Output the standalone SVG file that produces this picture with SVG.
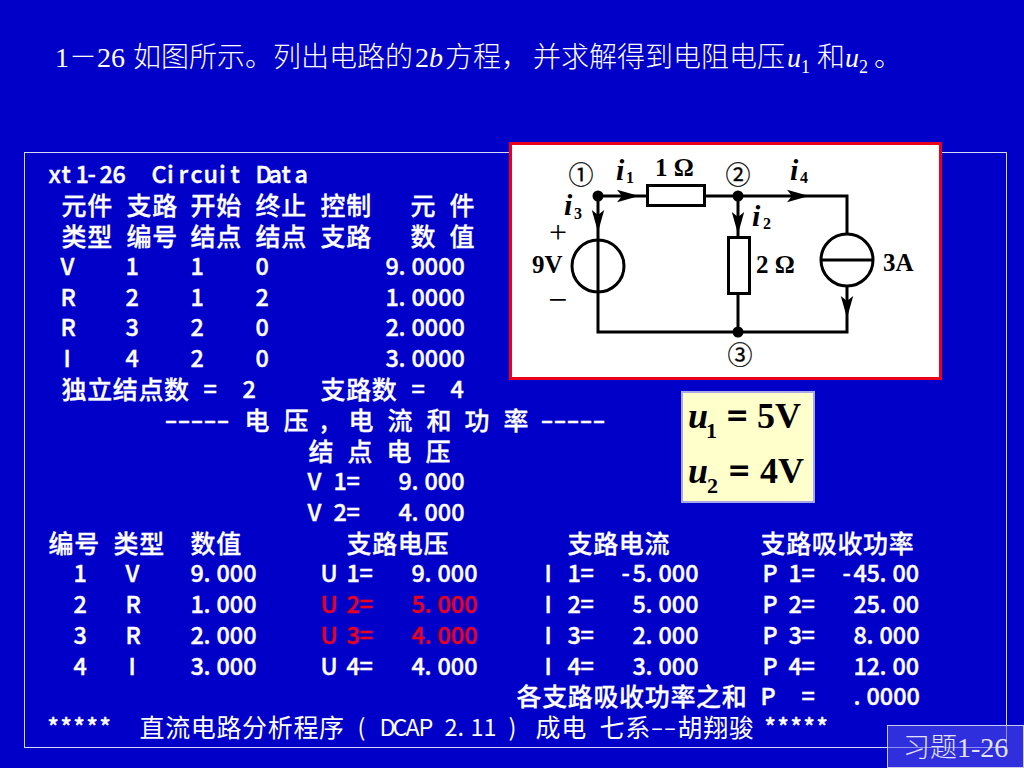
<svg xmlns="http://www.w3.org/2000/svg" width="1024" height="768" viewBox="0 0 1024 768">
<style>
text{fill:#fff;white-space:pre}
.c{font-family:"Noto Sans CJK SC",sans-serif;font-size:25px;letter-spacing:.65px;font-weight:500;stroke:#fff;stroke-width:.3px;transform:translateY(.7px)}
.n{font-family:"Noto Sans CJK SC",sans-serif;font-size:23.4px;font-weight:500;stroke:#fff;stroke-width:.4px}
.thin{font-weight:400;stroke:none}
.t{font-family:"Noto Sans CJK SC",sans-serif;font-size:28px;font-weight:300}
.s{font-family:"Liberation Serif","Times New Roman",serif;font-size:28px}
.si{font-style:italic}
.sub{font-size:18px}
.r{fill:#e8001c;stroke:#e8001c}
.k{fill:#000}
.lb{font-family:"Liberation Serif",serif;font-weight:bold;font-size:25px;fill:#000}
.cur{font-family:"Liberation Serif",serif;font-weight:bold;font-style:italic;font-size:30px;fill:#000}
.cs{font-family:"Liberation Serif",serif;font-weight:bold;font-size:16px;fill:#000}
.nd{font-family:"Noto Sans CJK SC",sans-serif;font-size:25px;fill:#000;text-anchor:middle;stroke:#000;stroke-width:.25px}
.w{fill:none;stroke:#000;stroke-width:3}
.a{fill:none;stroke:none}
.ans{font-family:"Liberation Serif",serif;font-weight:bold;font-size:36px;fill:#000}
.ansi{font-style:italic}
.anss{font-size:22px}
.eq{stroke:#000;stroke-width:.9px}
</style>
<defs>
<marker id="ah" markerUnits="userSpaceOnUse" markerWidth="24" markerHeight="14" refX="22" refY="7" orient="auto">
<path d="M0 .8L22 7L0 13.200L5 7Z" fill="#000"/>
</marker>
</defs>
<rect id="background" width="1024" height="768" fill="#0000c8"/>
<rect id="frame" x="24.500" y="152.500" width="982" height="595" fill="none" stroke="#d5d8f5" stroke-width="1"/>

<g id="title">
<text class="s" x="55" y="67">1</text>
<text class="t" x="69" y="67">－</text>
<text class="s" x="97" y="67">26</text>
<text class="t" x="133" y="67">如图所示。列出电路的</text>
<text class="s" x="415" y="67">2<tspan class="si">b</tspan></text>
<text class="t" x="445" y="67">方程，</text>
<text class="t" x="533" y="67">并求解得到电阻电压</text>
<text class="s si" x="787" y="67">u</text>
<text class="s sub" x="801" y="73">1</text>
<text class="t" x="817" y="67">和</text>
<text class="s si" x="845" y="67">u</text>
<text class="s sub" x="859" y="73">2</text>
<text class="t" x="874" y="67">。</text>
</g>

<g id="listing" transform="translate(-1.500,0)">
<g transform="translate(0,183)"><text class="n" x="50 63 77 89 101 114">xt1-26</text><text class="n" x="153 168.500 180 192 205 220.500 232">Circuit</text><text class="n" x="257 270 283 296">Data</text></g>
<g transform="translate(0,214)"><text class="c" x="63">元件</text><text class="c" x="128">支路</text><text class="c" x="192">开始</text><text class="c" x="257">终止</text><text class="c" x="322">控制</text><text class="c" x="412">元</text><text class="c" x="451">件</text></g>
<g transform="translate(0,245)"><text class="c" x="63">类型</text><text class="c" x="128">编号</text><text class="c" x="192">结点</text><text class="c" x="257">结点</text><text class="c" x="322">支路</text><text class="c" x="412">数</text><text class="c" x="451">值</text></g>
<g transform="translate(0,275)"><text class="n" x="62">V</text><text class="n" x="127">1</text><text class="n" x="192">1</text><text class="n" x="257">0</text><text class="n" x="387 400 413">9.0000</text></g>
<g transform="translate(0,306)"><text class="n" x="62">R</text><text class="n" x="127">2</text><text class="n" x="192">1</text><text class="n" x="257">2</text><text class="n" x="387 400 413">1.0000</text></g>
<g transform="translate(0,336)"><text class="n" x="62">R</text><text class="n" x="127">3</text><text class="n" x="192">2</text><text class="n" x="257">0</text><text class="n" x="387 400 413">2.0000</text></g>
<g transform="translate(0,367)"><text class="n" x="65">I</text><text class="n" x="127">4</text><text class="n" x="192">2</text><text class="n" x="257">0</text><text class="n" x="387 400 413">3.0000</text></g>
<g transform="translate(0,398)"><text class="c" x="63">独立结点数</text><text class="n" x="205">=</text><text class="n" x="244">2</text><text class="c" x="322">支路数</text><text class="n" x="413">=</text><text class="n" x="452">4</text></g>
<g transform="translate(0,429)"><text class="n" x="166" textLength="65" lengthAdjust="spacingAndGlyphs">-----</text><text class="c" x="246">电</text><text class="c" x="285">压</text><text class="n" x="322">,</text><text class="c" x="350">电</text><text class="c" x="389">流</text><text class="c" x="428">和</text><text class="c" x="466">功</text><text class="c" x="505">率</text><text class="n" x="542" textLength="65" lengthAdjust="spacingAndGlyphs">-----</text></g>
<g transform="translate(0,460)"><text class="c" x="310">结</text><text class="c" x="349">点</text><text class="c" x="388">电</text><text class="c" x="427">压</text></g>
<g transform="translate(0,490)"><text class="n" x="309">V</text><text class="n" x="335 348">1=</text><text class="n" x="400 413 426">9.000</text></g>
<g transform="translate(0,521)"><text class="n" x="309">V</text><text class="n" x="335 348">2=</text><text class="n" x="400 413 426">4.000</text></g>
<g transform="translate(0,552)"><text class="c" x="50">编号</text><text class="c" x="115">类型</text><text class="c" x="192">数值</text><text class="c" x="348">支路电压</text><text class="c" x="569">支路电流</text><text class="c" x="762">支路吸收功率</text></g>
<g transform="translate(0,582)"><text class="n" x="75">1</text><text class="n" x="127">V</text><text class="n" x="192 205 218">9.000</text><text class="n" x="322">U</text><text class="n" x="348 361">1=</text><text class="n" x="413 426 439">9.000</text><text class="n" x="546">I</text><text class="n" x="569 582">1=</text><text class="n" x="623 634 647 660">-5.000</text><text class="n" x="764">P</text><text class="n" x="790 803">1=</text><text class="n" x="844 855 868 881 894">-45.00</text></g>
<g transform="translate(0,613)"><text class="n" x="75">2</text><text class="n" x="127">R</text><text class="n" x="192 205 218">1.000</text><text class="n r" x="322">U</text><text class="n r" x="348 361">2=</text><text class="n r" x="413 426 439">5.000</text><text class="n" x="546">I</text><text class="n" x="569 582">2=</text><text class="n" x="634 647 660">5.000</text><text class="n" x="764">P</text><text class="n" x="790 803">2=</text><text class="n" x="855 868 881 894">25.00</text></g>
<g transform="translate(0,644)"><text class="n" x="75">3</text><text class="n" x="127">R</text><text class="n" x="192 205 218">2.000</text><text class="n r" x="322">U</text><text class="n r" x="348 361">3=</text><text class="n r" x="413 426 439">4.000</text><text class="n" x="546">I</text><text class="n" x="569 582">3=</text><text class="n" x="634 647 660">2.000</text><text class="n" x="764">P</text><text class="n" x="790 803">3=</text><text class="n" x="855 868 881">8.000</text></g>
<g transform="translate(0,675)"><text class="n" x="75">4</text><text class="n" x="130">I</text><text class="n" x="192 205 218">3.000</text><text class="n" x="322">U</text><text class="n" x="348 361">4=</text><text class="n" x="413 426 439">4.000</text><text class="n" x="546">I</text><text class="n" x="569 582">4=</text><text class="n" x="634 647 660">3.000</text><text class="n" x="764">P</text><text class="n" x="790 803">4=</text><text class="n" x="855 868 881 894">12.00</text></g>
<g transform="translate(0,705)"><text class="c" x="518">各支路吸收功率之和</text><text class="n" x="762">P</text><text class="n" x="803">=</text><text class="n" x="855 868">.0000</text></g>
<g transform="translate(0,736)"><text class="n" x="49 62 75 88 101">*****</text><text class="c thin" x="141">直流电路分析程序</text><text class="n thin" x="359">(</text><text class="n thin" x="381 394 407 420">DCAP</text><text class="n thin" x="446 459 472 485">2.11</text><text class="n thin" x="510">)</text><text class="c thin" x="537">成电</text><text class="c thin" x="601">七系</text><text class="n thin" x="652" textLength="26" lengthAdjust="spacingAndGlyphs">--</text><text class="c thin" x="679">胡翔骏</text><text class="n" x="766 779 792 805 818">*****</text></g>
</g>

<g id="circuit-panel">
<rect x="510.500" y="143.500" width="430" height="235" fill="#fff" stroke="#e8001c" stroke-width="3"/>
</g>
<g id="connectors">
<path class="w" d="M647 196H598V332H847V286M847 234V196H704M738 196V237M738 295V332"/>
<path class="a" d="M617 196H639" marker-end="url(#ah)"/>
<path class="a" d="M787 196H809" marker-end="url(#ah)"/>
<path class="a" d="M598 208V232" marker-end="url(#ah)"/>
<path class="a" d="M738 208V234" marker-end="url(#ah)"/>
<path class="a" d="M847 295V318" marker-end="url(#ah)"/>
</g>
<g id="node-1"><circle cx="598" cy="196" r="5.500" fill="#000"/><text class="nd" x="581" y="184">①</text></g>
<g id="node-2"><circle cx="738" cy="196" r="5.500" fill="#000"/><text class="nd" x="738" y="184">②</text></g>
<g id="node-3"><circle cx="738" cy="332" r="5.500" fill="#000"/><text class="nd" x="740" y="364">③</text></g>
<g id="r1"><rect class="w" x="647.500" y="185.500" width="57" height="20" style="fill:#fff"/><text class="lb" x="655" y="176">1 Ω</text></g>
<g id="r2"><rect class="w" x="728.500" y="237.500" width="21" height="56" style="fill:#fff"/><text class="lb" x="756" y="273">2 Ω</text></g>
<g id="vs"><circle class="w" cx="598" cy="266" r="26"/><text class="lb" x="532" y="273">9V</text><text class="s k" x="549" y="243" style="font-size:32px">+</text><text class="s k" x="548" y="311" style="font-size:34px">−</text></g>
<g id="is"><circle class="w" cx="847" cy="260" r="26" style="fill:#fff"/><path class="w" d="M821 260H873"/><text class="lb" x="883" y="271">3A</text></g>
<g id="currents">
<text class="cur" x="616" y="180">i</text><text class="cs" x="626" y="183">1</text>
<text class="cur" x="790" y="180">i</text><text class="cs" x="800" y="183">4</text>
<text class="cur" x="564" y="215">i</text><text class="cs" x="574" y="219">3</text>
<text class="cur" x="752" y="226">i</text><text class="cs" x="763" y="229">2</text>
</g>

<g id="answer">
<rect x="682" y="392" width="132" height="110" fill="#ffffcc" stroke="#a8a8e8" stroke-width="2"/>
<text class="ans ansi" x="688" y="428">u</text><text class="ans anss" x="706" y="438">1</text><text class="ans eq" x="727" y="428">=</text><text class="ans" x="757" y="428">5V</text>
<text class="ans ansi" x="688" y="483">u</text><text class="ans anss" x="707" y="493">2</text><text class="ans eq" x="729" y="483">=</text><text class="ans" x="760" y="483">4V</text>
</g>

<g id="tag">
<rect x="887.500" y="725.500" width="136" height="42" fill="#5555ee" fill-opacity=".55" stroke="#c8c8e8" stroke-width="1"/>
<text x="903" y="757" style="font-family:'Noto Sans CJK SC',sans-serif;font-size:27px;font-weight:300;fill:#e4e4f4">习题<tspan style="font-family:'Liberation Serif',serif;font-size:28px">1-26</tspan></text>
</g>
</svg>
